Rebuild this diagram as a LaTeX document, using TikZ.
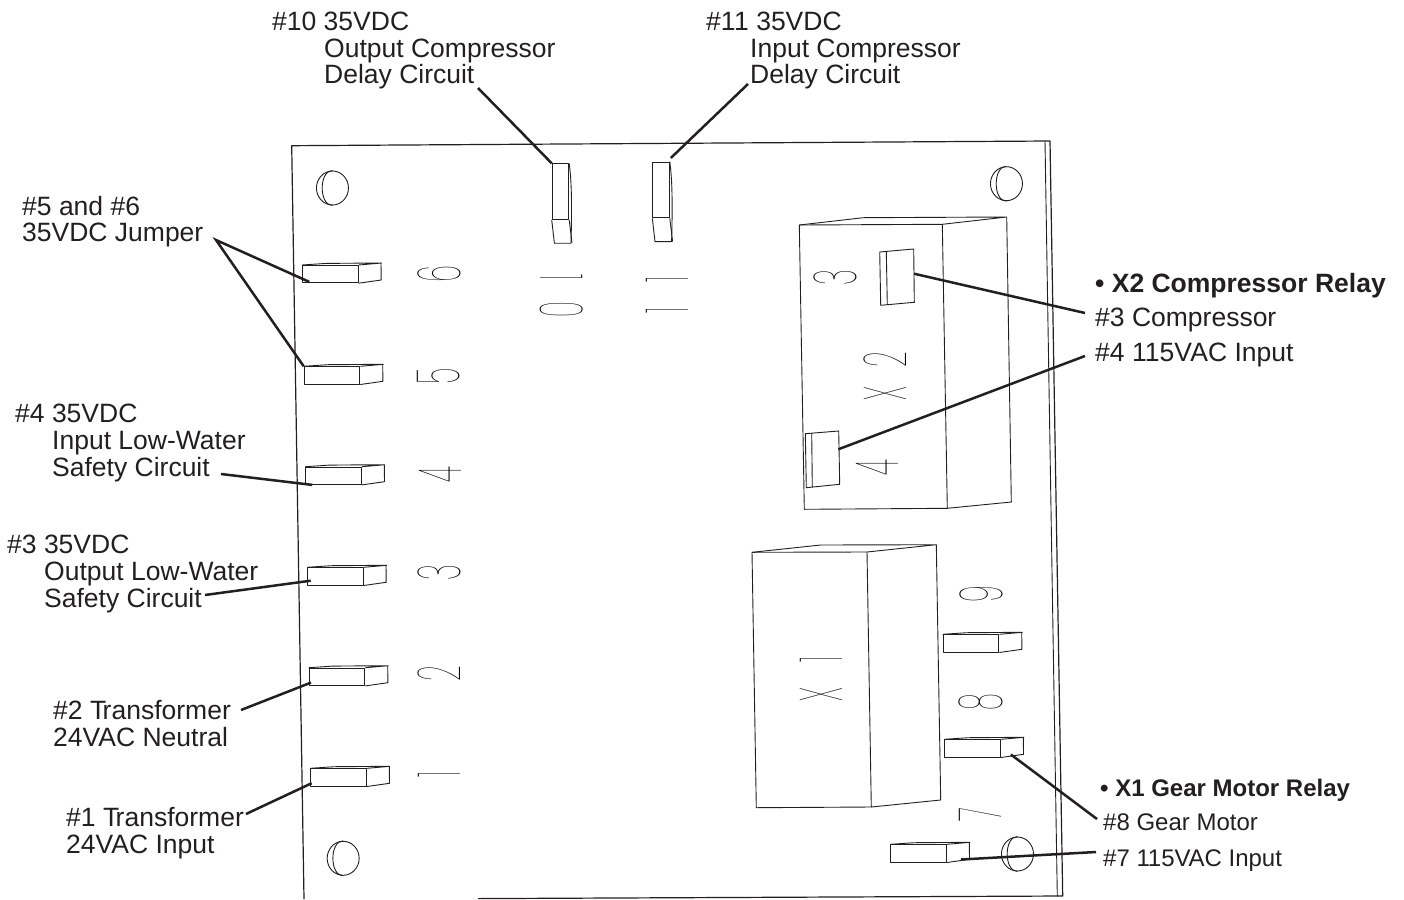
\documentclass[tikz,border=0pt]{standalone}
\usepackage{fontspec}
\usetikzlibrary{shapes.geometric,calc}
\setmainfont{Liberation Sans}
\newfontfamily\digitfont{Poppins Thin}
\definecolor{ink}{HTML}{231F20}
\tikzset{
  part/.style={draw=ink,line width=.9pt,line join=round},
  leader/.style={draw=ink,line width=2.5pt},
  lab/.style={text=ink,inner sep=0pt,anchor=north west,align=left,font=\fontsize{26.5}{26.7}\selectfont},
  smalllab/.style={lab,font=\fontsize{24}{24}\selectfont},
  boldlab/.style={lab,font=\fontsize{26.5}{26.6}\selectfont\bfseries},
  smallbold/.style={lab,font=\fontsize{24}{24}\selectfont\bfseries},
  digit/.style={text=black,inner sep=0pt,font=\fontsize{60}{60}\digitfont,rotate=90,xscale=.46,transform shape},
  tface/.style={part,inner sep=0pt,minimum width=55.7pt,minimum height=17.3pt,anchor=north west}
}
\newcommand{\hterm}[3]{%
  \node[tface] (#1) at (#2,#3) {};
  \draw[part] (#1.north west) -- ++(24,-1.6) -- ++(55,-.4) -- ++(.2,17) -- (#1.south east) (#1.north east) -- ++(23.3,-2);
}
\newcommand{\vterm}[3]{%
  \node[part,inner sep=0pt,minimum width=16.6pt,minimum height=55.7pt,anchor=north west] (#1) at (#2,#3) {};
  \draw[part] (#1.south west) -- ++(2.7,23.3) -- ++(16.6,0) .. controls ($(#1.east)+(3.2,0)$) and ($(#1.north east)+(1.5,12)$) .. (#1.north east);
  \draw[part] (#1.south east) -- ++(2.8,23.3);
}
\newcommand{\hole}[3]{%
  \node[part,ellipse,inner sep=0pt,minimum width=32pt,minimum height=34pt,anchor=west] (#1) at (#2,#3+17) {};
  \draw[part] (#1.north) .. controls ($(#1.north)+(-13.7,0)$) and ($(#1.south)+(-13.7,0)$) .. (#1.south);
}
\begin{document}
\begin{tikzpicture}[x=1pt,y=-1pt]
\useasboundingbox (0,0) rectangle (1404,899);
% board
\coordinate (tl) at (291.7,145.7); \coordinate (tr) at (1050,141);
\coordinate (tri) at (1045,141.3); \coordinate (bri) at (1057.3,896.3);
\coordinate (br) at (1062.7,896); \coordinate (bl) at (304,899);
\coordinate (bm) at (478,898.6);
\draw[part,line width=1.2pt] (bl) -- (tl) -- (tr) -- (br) -- (bm);
\draw[part] (tri) -- (bri);
% holes
\hole{h1}{316}{171} \hole{h2}{990}{166.7} \hole{h3}{326.7}{841.3} \hole{h4}{1001}{837}
% left terminals
\hterm{t6}{302}{265} \hterm{t5}{303.7}{366.3} \hterm{t4}{305.3}{466.7}
\hterm{t3}{307}{567.3} \hterm{t2}{308.7}{667.7} \hterm{t1}{310.3}{768.3}
\hterm{t9}{942.7}{634.3} \hterm{t8}{944.3}{739.3} \hterm{t7}{890.3}{844.3}
\vterm{t10}{551.7}{163.3} \vterm{t11}{652.3}{161.7}
% relay X2
\draw[part] (799.3,225) -- (942.3,224.3) -- (947.3,508.3) -- (804.3,509.3) -- cycle;
\draw[part] (799.3,225) -- (863.3,217.7) -- (1006.7,217) -- (1011.3,502) -- (947.3,508.3) (942.3,224.3) -- (1006.7,217);
\draw[part] (879.7,252) -- (913.7,249) -- (914.3,302.3) -- (880.7,305.3) -- cycle (886.3,251.7) -- (887.3,305);
\draw[part] (805.3,433.7) -- (838.7,431) -- (839.7,484.3) -- (806.3,487.7) -- cycle (811.7,433) -- (812.3,487);
% relay X1
\draw[part] (752,552.3) -- (867,552) -- (871.3,807) -- (756.3,807.7) -- cycle;
\draw[part] (752,552.3) -- (820.7,545) -- (936.3,544.7) -- (940.7,800) -- (871.3,807) (867,552) -- (936.3,544.7);
% board digits
\node[digit] (d6) at (439,274) {6};
\node[digit] (d5) at (439,376) {5};
\node[digit] (d4) at (440,475) {4};
\node[digit] (d3) at (439,573) {3};
\node[digit] (d2) at (439,674) {2};
\node[digit] (d1) at (439,774) {1};
\node[digit,rotate=180] (d10) at (562,296) {1\kern44pt 0};
\node[digit] (d11) at (667,295) {1\kern54pt 1};
\node[digit] (dx3) at (835,278) {3};
\node[digit] (dx2) at (885,376) {X\kern42pt 2};
\node[digit] (dx4) at (877,468) {4};
\node[digit] (dx1) at (821,679) {X\kern54pt 1};
\node[digit] (d9) at (981,594) {9};
\node[digit] (d8) at (981,702) {8};
\node[digit] (d7) at (980,815) {7};
% labels
\node[lab] (l10) at (272,11.7) {\#10 35VDC\\\hspace*{52pt}Output Compressor\\\hspace*{52pt}Delay Circuit};
\node[lab] (l11) at (706,11.7) {\#1\kern-1.5pt 1 35VDC\\\hspace*{44pt}Input Compressor\\\hspace*{44pt}Delay Circuit};
\node[lab] (l56) at (22,195.6) {\#5 and \#6\\35VDC Jumper};
\node[lab] (l4) at (15,404) {\#4 35VDC\\\hspace*{37pt}Input Low-Water\\\hspace*{37pt}Safety Circuit};
\node[lab] (l3) at (7,535) {\#3 35VDC\\\hspace*{37pt}Output Low-Water\\\hspace*{37pt}Safety Circuit};
\node[lab] (l2) at (53,700) {\#2 T\kern-3.5pt ransformer\\24VAC Neutral};
\node[lab] (l1) at (66,807.5) {\#1 T\kern-3.5pt ransformer\\24VAC Input};
\node[boldlab] (x2h) at (1095,273) {• X2 Compressor Relay};
\node[lab] (x2a) at (1095,308) {\#3 Compressor};
\node[lab] (x2b) at (1095,343) {\#4 1\kern-2pt 15V\kern-1.5pt AC Input};
\node[smallbold] (x1h) at (1100,779) {• X1 Gear Motor Relay};
\node[smalllab] (x1a) at (1103,814) {\#8 Gear Motor};
\node[smalllab] (x1b) at (1103,850) {\#7 1\kern-2pt 15V\kern-2pt AC Input};
% connector ends
\coordinate (c10) at (478,88); \coordinate (c11) at (748,84);
\coordinate (c56) at (216,240); \coordinate (c4) at (221,474);
\coordinate (c3) at (205,595); \coordinate (c2) at (241,710);
\coordinate (c1) at (246,814); \coordinate (cx3) at (1085,313);
\coordinate (cx4) at (1085,356); \coordinate (cx8) at (1097,819);
\coordinate (cx7) at (1096,852);
\coordinate (e6) at ($(t6.south west)+(7.3,-1.3)$);
\coordinate (e4) at ($(t4.south west)+(7,0)$);
\coordinate (e3) at ($(t3.west)+(3.7,4.3)$);
\coordinate (e2) at ($(t2.south west)+(2.3,-3.3)$);
\coordinate (e1) at ($(t1.south west)+(1.4,-3.3)$);
\coordinate (e8) at ($(t8.south east)+(10,-3)$);
\coordinate (e7) at ($(t7.south east)+(14,-3)$);
\coordinate (e11) at ($(t11.north east)+(1,-3.7)$);
\coordinate (ex3) at (914,273.7); \coordinate (ex4) at (838.3,449.3);
\draw[leader] (c10) -- (t10.north west);
\draw[leader] (c11) -- (e11);
\draw[leader] (t5.north west) -- (c56) -- (e6);
\draw[leader] (c4) -- (e4);
\draw[leader] (c3) -- (e3);
\draw[leader] (c2) -- (e2);
\draw[leader] (c1) -- (e1);
\draw[leader] (ex3) -- (cx3);
\draw[leader] (ex4) -- (cx4);
\draw[leader] (e8) -- (cx8);
\draw[leader] (e7) -- (cx7);
\end{tikzpicture}
\end{document}
